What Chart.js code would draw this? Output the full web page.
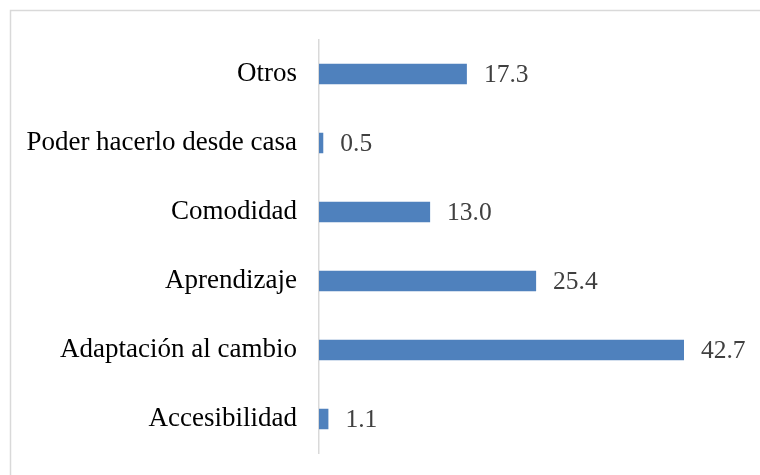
<!DOCTYPE html>
<html>
<head>
<meta charset="utf-8">
<script src="https://cdn.jsdelivr.net/npm/chart.js@4/dist/chart.umd.min.js"></script>
<style>
html,body{margin:0;padding:0;background:#fff;}
#wrap{width:760px;height:475px;position:relative;}
</style>
</head>
<body>
<div id="wrap"><canvas id="c" width="760" height="475"></canvas></div>
<script>
const categories = ['Otros', 'Poder hacerlo desde casa', 'Comodidad', 'Aprendizaje', 'Adaptación al cambio', 'Accesibilidad'];
const values = [17.3, 0.5, 13.0, 25.4, 42.7, 1.1];

const FONT = '"Liberation Serif", "Times New Roman", serif';

const frame = {
  id: 'frame',
  beforeDraw(chart) {
    const ctx = chart.ctx;
    ctx.save();
    ctx.fillStyle = '#fff';
    ctx.fillRect(0, 0, chart.width, chart.height);
    ctx.strokeStyle = '#d9d9d9';
    ctx.lineWidth = 1.5;
    ctx.strokeRect(10.5, 10.5, 800, 500);
    ctx.restore();
  }
};

const valueLabels = {
  id: 'valueLabels',
  afterDatasetsDraw(chart) {
    const ctx = chart.ctx;
    const meta = chart.getDatasetMeta(0);
    ctx.save();
    ctx.font = '25.5px ' + FONT;
    ctx.fillStyle = '#404040';
    ctx.textAlign = 'left';
    ctx.textBaseline = 'middle';
    meta.data.forEach((bar, i) => {
      ctx.fillText(values[i].toFixed(1), bar.x + 17, bar.y + 1);
    });
    ctx.restore();
  }
};

new Chart(document.getElementById('c'), {
  type: 'bar',
  data: {
    labels: categories,
    datasets: [{
      data: values,
      backgroundColor: '#4f81bd',
      borderWidth: 0,
      categoryPercentage: 1,
      barPercentage: 0.3
    }]
  },
  options: {
    indexAxis: 'y',
    responsive: false,
    animation: false,
    devicePixelRatio: 1,
    layout: { padding: { left: 10, right: 13.6, top: 39.5, bottom: 21.5 } },
    plugins: { legend: { display: false }, tooltip: { enabled: false } },
    scales: {
      x: { display: false, min: 0, max: 50 },
      y: {
        afterFit(s) { s.width = 309; s.paddingTop = 0; s.paddingBottom = 0; },
        grid: { display: false, drawTicks: false },
        border: { display: true, color: '#d9d9d9', width: 1.5 },
        ticks: { padding: 22, color: '#000', font: { family: FONT, size: 27 } }
      }
    }
  },
  plugins: [frame, valueLabels]
});
</script>
</body>
</html>
